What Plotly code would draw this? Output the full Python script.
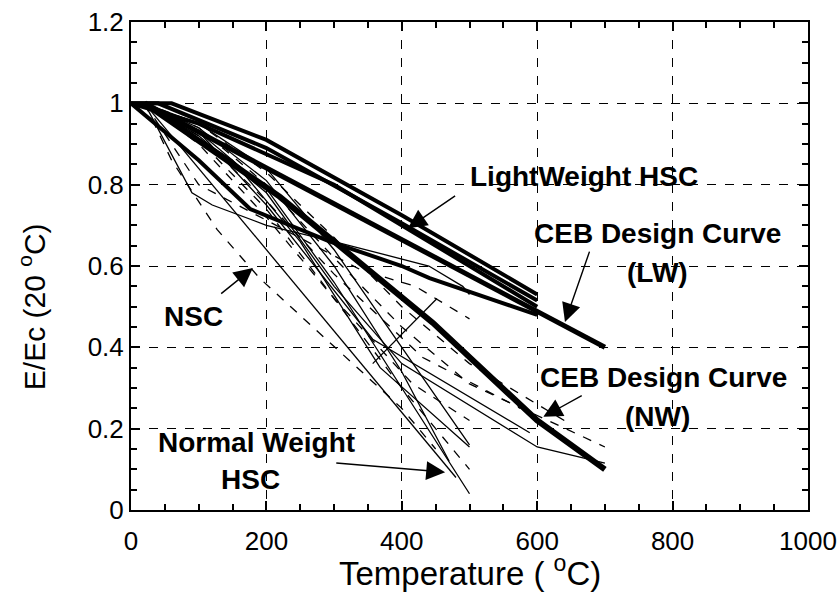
import plotly.graph_objects as go

# Temperature (C) and E/Ec(20C)

# thick lines: lightweight HSC
lw_a_t = [0, 60, 200, 400, 600]
lw_a_e = [1, 1, 0.91, 0.725, 0.53]
lw_b_t = [0, 40, 200, 400, 600]
lw_b_e = [1, 1, 0.89, 0.705, 0.515]
lw_c_t = [0, 100, 300, 600]
lw_c_e = [1, 0.95, 0.80, 0.50]
lw_d_t = [0, 100, 176, 294, 400, 441, 600]
lw_d_e = [1, 0.86, 0.74, 0.66, 0.60, 0.57, 0.48]

# CEB design curves
ceb_lw_t = [20, 700]
ceb_lw_e = [1, 0.40]
ceb_nw_t = [20, 220, 446, 600, 700]
ceb_nw_e = [1, 0.77, 0.46, 0.22, 0.10]

# thin solid lines (normal weight HSC / NSC)
s1_t = [20, 480]
s1_e = [1, 0.08]
s2_t = [20, 100, 200, 300, 400, 500]
s2_e = [1, 0.93, 0.79, 0.56, 0.30, 0.04]
s3_t = [20, 100, 200, 300, 400, 470]
s3_e = [1, 0.94, 0.81, 0.60, 0.34, 0.12]
s4_t = [20, 100, 200, 300, 400, 500]
s4_e = [1, 0.95, 0.84, 0.64, 0.40, 0.16]
s5_t = [20, 90, 120, 200, 300, 440, 490, 500]
s5_e = [1, 0.78, 0.75, 0.70, 0.66, 0.60, 0.55, 0.53]
s6_t = [20, 100, 200, 300, 400, 600, 700]
s6_e = [1, 0.92, 0.78, 0.55, 0.36, 0.155, 0.115]
s7_t = [20, 150, 250, 368, 500]
s7_e = [1, 0.86, 0.66, 0.35, 0.155]
s8_t = [20, 100, 200, 357, 589]
s8_e = [1, 0.93, 0.75, 0.42, 0.19]
s9_t = [357, 452]
s9_e = [0.36, 0.52]

# thin dashed lines
d1_t = [20, 100, 180, 340, 420, 500]
d1_e = [1, 0.80, 0.73, 0.59, 0.55, 0.47]
d2_t = [20, 60, 127, 190, 275, 400, 450]
d2_e = [1, 0.86, 0.69, 0.57, 0.44, 0.25, 0.15]
d3_t = [20, 100, 200, 300, 431, 575]
d3_e = [1, 0.92, 0.76, 0.58, 0.375, 0.25]
d4_t = [20, 100, 200, 300, 416, 500]
d4_e = [1, 0.90, 0.72, 0.52, 0.31, 0.22]
d5_t = [20, 100, 200, 300, 400, 500, 700]
d5_e = [1, 0.94, 0.80, 0.62, 0.45, 0.31, 0.155]
d6_t = [20, 100, 200, 300, 400, 500]
d6_e = [1, 0.91, 0.74, 0.52, 0.30, 0.10]
d7_t = [20, 100, 200, 300, 400, 500, 650]
d7_e = [1, 0.95, 0.83, 0.67, 0.50, 0.36, 0.21]

fig = go.Figure()


def add_line(t, e, width, dash="solid"):
    fig.add_trace(go.Scatter(
        x=t, y=e, mode="lines",
        line=dict(color="black", width=width, dash=dash),
        showlegend=False, hoverinfo="skip"
    ))


for t, e in [(s1_t, s1_e), (s2_t, s2_e), (s3_t, s3_e), (s4_t, s4_e), (s5_t, s5_e),
             (s6_t, s6_e), (s7_t, s7_e), (s8_t, s8_e), (s9_t, s9_e)]:
    add_line(t, e, 1.3)

for t, e in [(d1_t, d1_e), (d2_t, d2_e), (d3_t, d3_e), (d4_t, d4_e),
             (d5_t, d5_e), (d6_t, d6_e), (d7_t, d7_e)]:
    add_line(t, e, 1.3, "dash")

for t, e in [(lw_a_t, lw_a_e), (lw_b_t, lw_b_e), (lw_c_t, lw_c_e), (lw_d_t, lw_d_e)]:
    add_line(t, e, 4)

add_line(ceb_lw_t, ceb_lw_e, 5)
add_line(ceb_nw_t, ceb_nw_e, 6)

# labels (positions in data units)
lab_font = dict(family="Arial, Liberation Sans", size=28, color="black")
labels = [
    (669, 0.819, "<b>LightWeight HSC</b>"),
    (777, 0.681, "<b>CEB Design Curve</b>"),
    (777, 0.583, "<b>(LW)</b>"),
    (93, 0.475, "<b>NSC</b>"),
    (786, 0.327, "<b>CEB Design Curve</b>"),
    (777, 0.231, "<b>(NW)</b>"),
    (186, 0.167, "<b>Normal Weight</b>"),
    (176, 0.076, "<b>HSC</b>"),
]
for x, y, txt in labels:
    fig.add_annotation(x=x, y=y, text=txt, showarrow=False, font=lab_font)

# arrows: tip (x, y), tail (ax, ay)
arrows = [
    (409, 0.693, 481, 0.775),
    (641, 0.462, 678, 0.639),
    (180, 0.595, 131, 0.529),
    (609, 0.229, 668, 0.283),
    (464, 0.093, 301, 0.116),
]
for x, y, ax, ay in arrows:
    fig.add_annotation(x=x, y=y, ax=ax, ay=ay, xref="x", yref="y", axref="x", ayref="y",
                       text="", showarrow=True, arrowhead=2, arrowsize=2.7,
                       arrowwidth=1.4, arrowcolor="black")

# axis titles
title_font = dict(family="Arial, Liberation Sans", size=33, color="black")
fig.add_annotation(x=0.5, y=-0.124, xref="paper", yref="paper",
                   text="Temperature ( <sup>o</sup>C)", showarrow=False,
                   font=title_font, xanchor="center", yanchor="middle")
fig.add_annotation(x=-0.146, y=0.416, xref="paper", yref="paper",
                   text="E/Ec (20 <sup>o</sup>C)", showarrow=False, textangle=-90,
                   font=dict(family="Arial, Liberation Sans", size=30, color="black"),
                   xanchor="center", yanchor="middle")

axis_common = dict(
    showline=True, linecolor="black", linewidth=2, mirror="ticks",
    ticks="inside", ticklen=9, tickcolor="black", tickwidth=1.5,
    showgrid=True, gridcolor="black", gridwidth=1.4, griddash="dash",
    zeroline=False, ticklabeloverflow="allow", automargin=False,
)

fig.update_xaxes(
    range=[0, 1000], dtick=200,
    minor=dict(dtick=50, ticks="inside", ticklen=6, tickcolor="black", showgrid=False),
    tickfont=dict(family="Arial, Liberation Sans", size=26, color="black"),
    ticklabelstandoff=7,
    **axis_common
)
fig.update_yaxes(
    range=[0, 1.2], dtick=0.2,
    minor=dict(dtick=0.05, ticks="inside", ticklen=6, tickcolor="black", showgrid=False),
    tickfont=dict(family="Arial, Liberation Sans", size=26, color="black"),
    **axis_common
)

fig.update_layout(
    width=838, height=598,
    margin=dict(l=131, r=30, t=22, b=88, autoexpand=False),
    plot_bgcolor="white", paper_bgcolor="white",
)

fig.write_html("out.html", config={"displayModeBar": False},
               post_script="document.body.style.margin='0';document.body.style.overflow='hidden';")
